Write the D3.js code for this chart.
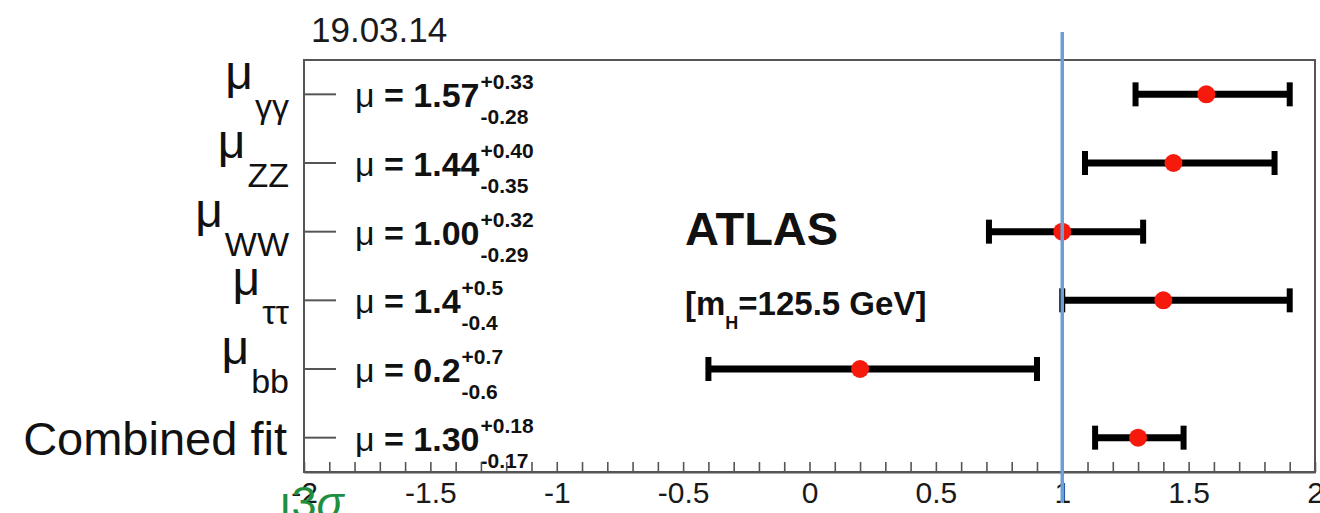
<!DOCTYPE html>
<html>
<head>
<meta charset="utf-8">
<script src="https://cdn.jsdelivr.net/npm/d3@7"></script>
<style>
  html, body { margin: 0; padding: 0; background: #fff; }
  svg { display: block; font-family: "Liberation Sans", Arial, Helvetica, sans-serif; }
</style>
</head>
<body>
<svg id="chart" width="1320" height="513"></svg>
<script>
// Signal-strength measurements per decay channel
const channelMain = ["\u03bc", "\u03bc", "\u03bc", "\u03bc", "\u03bc", "Combined fit"];
const channelSub  = ["\u03b3\u03b3", "ZZ", "WW", "\u03c4\u03c4", "bb", ""];
const muCentral   = [1.57, 1.44, 1.00, 1.4, 0.2, 1.30];
const muErrUp     = [0.33, 0.40, 0.32, 0.5, 0.7, 0.18];
const muErrDown   = [0.28, 0.35, 0.29, 0.4, 0.6, 0.17];
const muDecimals  = [2, 2, 2, 1, 1, 2];
const tickLabels  = [-2, -1.5, -1, -0.5, 0, 0.5, 1, 1.5, 2];
const smReference = 1;

const svg = d3.select("#chart");
const frame = { left: 304, right: 1315, top: 60, bottom: 472 };

const x = d3.scaleLinear().domain([-2, 2]).range([frame.left, frame.right]);
const y = d3.scaleBand().domain(d3.range(channelMain.length))
  .range([frame.top, frame.bottom]).paddingInner(0).paddingOuter(0);
const yc = i => y(i) + y.bandwidth() / 2;

// date stamp
svg.append("text").attr("x", 311).attr("y", 42)
  .attr("font-size", 35).attr("fill", "#1a1a1a").text("19.03.14");

// plot frame
svg.append("rect")
  .attr("x", frame.left).attr("y", frame.top)
  .attr("width", frame.right - frame.left).attr("height", frame.bottom - frame.top)
  .attr("fill", "none").attr("stroke", "#555").attr("stroke-width", 2);

// row ticks on the left edge
svg.append("g").selectAll("line").data(d3.range(channelMain.length)).join("line")
  .attr("x1", frame.left).attr("x2", frame.left + 32)
  .attr("y1", d => yc(d)).attr("y2", d => yc(d))
  .attr("stroke", "#555").attr("stroke-width", 2);

// channel names
const names = svg.append("g").selectAll("text").data(d3.range(channelMain.length)).join("text")
  .attr("text-anchor", "end").attr("fill", "#111");
names.each(function (i) {
  const t = d3.select(this);
  if (channelSub[i]) {
    t.attr("x", 289).attr("y", yc(i) - 5);
    t.append("tspan").attr("font-size", 48).text(channelMain[i]);
    t.append("tspan").attr("font-size", 34).attr("dx", 2).attr("dy", 29).text(channelSub[i]);
  } else {
    t.attr("x", 287).attr("y", yc(i) + 17).attr("font-size", 47).text(channelMain[i]);
  }
});

// fitted values with asymmetric uncertainties
d3.range(channelMain.length).forEach(i => {
  const base = yc(i);
  const t = svg.append("text").attr("x", 355).attr("y", base + 13)
    .attr("font-size", 34).attr("fill", "#111");
  t.append("tspan").text("\u03bc");
  t.append("tspan").attr("font-weight", "bold").text(" = " + muCentral[i].toFixed(muDecimals[i]));
  const w = t.node().getComputedTextLength();
  const xs = 355 + w + 1;
  svg.append("text").attr("x", xs).attr("y", base - 5)
    .attr("font-size", 21).attr("font-weight", "bold").attr("fill", "#111")
    .text("+" + muErrUp[i].toFixed(muDecimals[i]));
  svg.append("text").attr("x", xs).attr("y", base + 30)
    .attr("font-size", 21).attr("font-weight", "bold").attr("fill", "#111")
    .text("-" + muErrDown[i].toFixed(muDecimals[i]));
});

// x axis: minor ticks every 0.1, labels every 0.5
const allTicks = d3.range(-20, 21).map(k => k / 10);
const axis = d3.axisBottom(x)
  .tickValues(allTicks)
  .tickSizeInner(-10).tickSizeOuter(0).tickPadding(10)
  .tickFormat(d => tickLabels.some(v => Math.abs(v - d) < 1e-9) ? String(+d.toFixed(1)) : "");
const gx = svg.append("g").attr("transform", `translate(0,${frame.bottom})`).call(axis);
gx.select(".domain").attr("stroke", "#555").attr("stroke-width", 2);
gx.selectAll(".tick line").attr("stroke", "#555").attr("stroke-width", 1.6);
gx.selectAll(".tick text").attr("font-size", 30).attr("fill", "#1a1a1a")
  .attr("font-family", "Liberation Sans, Arial, sans-serif");

// annotations
svg.append("text").attr("x", 685).attr("y", 245)
  .attr("font-size", 47).attr("font-weight", "bold").attr("fill", "#111").text("ATLAS");
const mh = svg.append("text").attr("x", 685).attr("y", 315)
  .attr("font-size", 33).attr("font-weight", "bold").attr("fill", "#111");
mh.append("tspan").text("[m");
mh.append("tspan").attr("font-size", 18).attr("dy", 14).text("H");
mh.append("tspan").attr("dy", -14).text("=125.5 GeV]");

// error bars
const bars = svg.append("g");
d3.range(channelMain.length).forEach(i => {
  const lo = muCentral[i] - muErrDown[i], hi = muCentral[i] + muErrUp[i];
  const cy = yc(i);
  bars.append("line").attr("x1", x(lo)).attr("x2", x(hi)).attr("y1", cy).attr("y2", cy)
    .attr("stroke", "#000").attr("stroke-width", 7);
  [lo, hi].forEach(v => bars.append("line")
    .attr("x1", x(v)).attr("x2", x(v)).attr("y1", cy - 12).attr("y2", cy + 12)
    .attr("stroke", "#000").attr("stroke-width", 6));
});
bars.selectAll("circle").data(d3.range(channelMain.length)).join("circle")
  .attr("cx", i => x(muCentral[i])).attr("cy", i => yc(i)).attr("r", 9)
  .attr("fill", "#f51a0c");

// Standard Model expectation
svg.append("line")
  .attr("x1", x(smReference)).attr("x2", x(smReference)).attr("y1", 32).attr("y2", 503)
  .attr("stroke", "#6e9fd4").attr("stroke-width", 3.5);

// green overlay text near the lower-left corner
const g3 = svg.append("text").attr("x", 279).attr("y", 518)
  .attr("font-size", 45).attr("fill", "#1f8f3f");
g3.append("tspan").text("\u01313");
g3.append("tspan").attr("font-style", "italic").text("\u03c3");
</script>
</body>
</html>
